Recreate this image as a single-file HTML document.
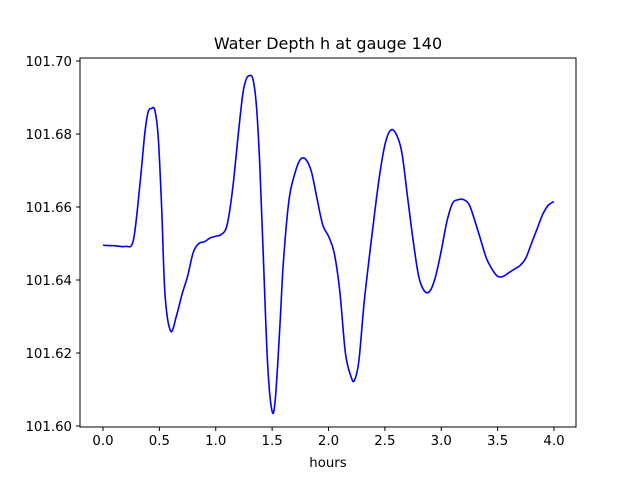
<!DOCTYPE html>
<html><head><meta charset="utf-8"><style>
body{margin:0;background:#fff;font-family:"DejaVu Sans","Liberation Sans",sans-serif;}
svg{display:block}
</style></head><body>
<svg id="chart" width="640" height="480" font-family="DejaVu Sans, Liberation Sans, sans-serif">
<rect width="640" height="480" fill="#fff"/>
<text x="328" y="49" text-anchor="middle" font-size="16">Water Depth h at gauge 140</text>
<g id="plot"></g>
<text x="328" y="467" text-anchor="middle" font-size="13.3">hours</text>
</svg>
<script>
const times=[0,0.1,0.2,0.27,0.33,0.37,0.4,0.43,0.46,0.49,0.52,0.55,0.6,0.65,0.7,0.75,0.8,0.85,0.9,0.95,1.0,1.05,1.1,1.15,1.2,1.24,1.27,1.3,1.33,1.36,1.39,1.42,1.46,1.5,1.53,1.57,1.6,1.65,1.7,1.75,1.8,1.85,1.9,1.95,2.0,2.05,2.1,2.15,2.2,2.23,2.27,2.32,2.4,2.45,2.5,2.55,2.6,2.65,2.7,2.75,2.8,2.85,2.9,2.95,3.0,3.05,3.1,3.15,3.2,3.25,3.3,3.35,3.4,3.45,3.5,3.55,3.6,3.65,3.7,3.75,3.8,3.85,3.9,3.95,4.0];
const depth=[101.6495,101.6494,101.6492,101.651,101.667,101.680,101.686,101.687,101.6865,101.679,101.660,101.636,101.626,101.630,101.636,101.641,101.6475,101.650,101.6505,101.6515,101.652,101.6525,101.655,101.665,101.680,101.691,101.695,101.696,101.695,101.688,101.672,101.648,101.617,101.604,101.608,101.628,101.645,101.662,101.669,101.673,101.673,101.6695,101.662,101.655,101.652,101.6475,101.637,101.620,101.6135,101.6125,101.618,101.635,101.656,101.668,101.677,101.681,101.680,101.675,101.663,101.651,101.641,101.637,101.637,101.641,101.648,101.656,101.661,101.662,101.662,101.6605,101.656,101.651,101.646,101.643,101.641,101.641,101.642,101.643,101.644,101.646,101.650,101.654,101.658,101.6605,101.6615];
const xTicks=[0,0.5,1,1.5,2,2.5,3,3.5,4];
const xTickLabels=["0.0","0.5","1.0","1.5","2.0","2.5","3.0","3.5","4.0"];
const yTicks=[101.60,101.62,101.64,101.66,101.68,101.70];
const yTickLabels=["101.60","101.62","101.64","101.66","101.68","101.70"];
const L=80,R=576,T=58,B=427;
const xs=t=>103+t*112.75;
const ys=v=>426-(v-101.6)*3650;
const NS="http://www.w3.org/2000/svg";
const g=document.getElementById('plot');
function mk(tag,a){const e=document.createElementNS(NS,tag);for(const k in a)e.setAttribute(k,a[k]);g.appendChild(e);return e;}
const n=times.length;
const P=times.map((t,i)=>[xs(t),ys(depth[i])]);
let d="M"+P[0][0].toFixed(2)+","+P[0][1].toFixed(2);
for(let i=1;i<n;i++){
  const a=P[Math.max(i-2,0)],b=P[i-1],c=P[i],e=P[Math.min(i+1,n-1)];
  d+=" C"+(b[0]+(c[0]-a[0])/6).toFixed(2)+","+(b[1]+(c[1]-a[1])/6).toFixed(2)+" "+(c[0]-(e[0]-b[0])/6).toFixed(2)+","+(c[1]-(e[1]-b[1])/6).toFixed(2)+" "+c[0].toFixed(2)+","+c[1].toFixed(2);
}
const line=mk('path',{d:d,fill:'none',stroke:'#0000ff','stroke-width':1.6,'stroke-linejoin':'round'});


const frame=mk('rect',{x:L,y:T,width:R-L,height:B-T,fill:'none',stroke:'#000','stroke-width':1});


xTicks.forEach((t,i)=>{
  const x=xs(t);
  const tk=mk('line',{x1:x,x2:x,y1:B,y2:B+4,stroke:'#000'});
  
  
  const tx=mk('text',{x:x,y:B+18,'text-anchor':'middle','font-size':13.3});
  tx.textContent=xTickLabels[i];
  
  
});
yTicks.forEach((v,i)=>{
  const y=ys(v);
  const tk=mk('line',{x1:L-4,x2:L,y1:y,y2:y,stroke:'#000'});
  
  
  const tx=mk('text',{x:L-8,y:y+5,'text-anchor':'end','font-size':13.3});
  tx.textContent=yTickLabels[i];
  
  
});
</script>
</body></html>
